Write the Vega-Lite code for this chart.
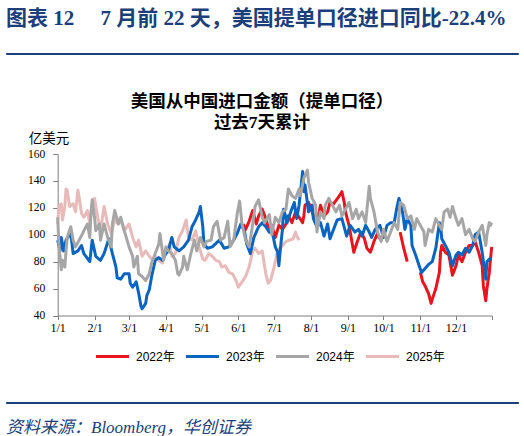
{
  "$schema": "https://vega.github.io/schema/vega-lite/v6.json",
  "background": "white",
  "padding": {"left": 5, "top": 7, "right": 5, "bottom": 5},
  "spacing": 33,
  "columns": 1,
  "align": "none",
  "resolve": {"scale": {"color": "independent", "strokeWidth": "independent"}, "legend": {"color": "independent"}},
  "config": {
    "view": {"stroke": null},
    "axis": {"grid": false, "domainColor": "#7f7f7f", "tickColor": "#7f7f7f", "labelFont": "Liberation Serif", "labelFontSize": 12, "labelColor": "#000"}
  },
  "concat": [
    {
      "width": 512,
      "height": 1,
      "view": {"stroke": "#1B3F7B", "fill": "#1B3F7B", "strokeWidth": 1},
      "title": {
        "text": "图表 12　 7 月前 22 天，美国提单口径进口同比-22.4%",
        "orient": "top", "anchor": "start", "frame": "group", "baseline": "alphabetic", "offset": 2,
        "font": "Liberation Serif, Noto Sans CJK SC", "fontSize": 21, "fontWeight": "bold", "color": "#1B3F7B"
      },
      "data": {"values": [{}]},
      "mark": {"type": "text", "text": ""}
    },
    {
      "width": 512,
      "height": 161.5,
      "title": {
        "text": "美国从中国进口金额（提单口径）",
        "subtitle": "过去7天累计",
        "anchor": "middle", "frame": "group", "offset": 0,
        "font": "Liberation Serif, Noto Sans CJK SC", "fontSize": 17.5, "fontWeight": "bold", "color": "#000",
        "subtitleFont": "Liberation Serif, Noto Sans CJK SC", "subtitleFontSize": 17.5, "subtitleFontWeight": "bold", "subtitleColor": "#000", "subtitlePadding": 4
      },
      "data": {"values": [
        {"s":"2025年","d":"2025-01-01","v":108},{"s":"2025年","d":"2025-01-02","v":121},{"s":"2025年","d":"2025-01-04","v":123},{"s":"2025年","d":"2025-01-05","v":111},
        {"s":"2025年","d":"2025-01-07","v":121},{"s":"2025年","d":"2025-01-08","v":134},{"s":"2025年","d":"2025-01-09","v":133},{"s":"2025年","d":"2025-01-11","v":121},
        {"s":"2025年","d":"2025-01-14","v":123},{"s":"2025年","d":"2025-01-16","v":117},{"s":"2025年","d":"2025-01-18","v":133},{"s":"2025年","d":"2025-01-19","v":128},
        {"s":"2025年","d":"2025-01-21","v":116},{"s":"2025年","d":"2025-01-23","v":113},{"s":"2025年","d":"2025-01-26","v":118},{"s":"2025年","d":"2025-01-28","v":108},
        {"s":"2025年","d":"2025-01-30","v":123},{"s":"2025年","d":"2025-02-01","v":127},{"s":"2025年","d":"2025-02-04","v":111},{"s":"2025年","d":"2025-02-06","v":103},
        {"s":"2025年","d":"2025-02-09","v":121},{"s":"2025年","d":"2025-02-12","v":108},{"s":"2025年","d":"2025-02-15","v":101},{"s":"2025年","d":"2025-02-18","v":111},
        {"s":"2025年","d":"2025-02-21","v":108},{"s":"2025年","d":"2025-02-23","v":111},{"s":"2025年","d":"2025-02-26","v":103},{"s":"2025年","d":"2025-03-01","v":108},
        {"s":"2025年","d":"2025-03-04","v":98},{"s":"2025年","d":"2025-03-07","v":91},{"s":"2025年","d":"2025-03-09","v":96},{"s":"2025年","d":"2025-03-12","v":84},
        {"s":"2025年","d":"2025-03-15","v":88},{"s":"2025年","d":"2025-03-18","v":84},{"s":"2025年","d":"2025-03-21","v":81},{"s":"2025年","d":"2025-03-23","v":84},
        {"s":"2025年","d":"2025-03-26","v":81},{"s":"2025年","d":"2025-03-29","v":79},{"s":"2025年","d":"2025-04-01","v":88},{"s":"2025年","d":"2025-04-04","v":93},
        {"s":"2025年","d":"2025-04-06","v":84},{"s":"2025年","d":"2025-04-09","v":86},{"s":"2025年","d":"2025-04-12","v":98},{"s":"2025年","d":"2025-04-15","v":103},
        {"s":"2025年","d":"2025-04-18","v":111},{"s":"2025年","d":"2025-04-20","v":98},{"s":"2025年","d":"2025-04-23","v":96},{"s":"2025年","d":"2025-04-26","v":103},
        {"s":"2025年","d":"2025-04-29","v":91},{"s":"2025年","d":"2025-05-02","v":82},{"s":"2025年","d":"2025-05-04","v":81},{"s":"2025年","d":"2025-05-07","v":86},
        {"s":"2025年","d":"2025-05-10","v":84},{"s":"2025年","d":"2025-05-13","v":81},{"s":"2025年","d":"2025-05-16","v":80},{"s":"2025年","d":"2025-05-18","v":76},
        {"s":"2025年","d":"2025-05-21","v":77},{"s":"2025年","d":"2025-05-24","v":72},{"s":"2025年","d":"2025-05-27","v":71},{"s":"2025年","d":"2025-05-30","v":66},
        {"s":"2025年","d":"2025-06-01","v":61},{"s":"2025年","d":"2025-06-04","v":65},{"s":"2025年","d":"2025-06-07","v":69},{"s":"2025年","d":"2025-06-10","v":76},
        {"s":"2025年","d":"2025-06-13","v":88},{"s":"2025年","d":"2025-06-15","v":90},{"s":"2025年","d":"2025-06-18","v":86},{"s":"2025年","d":"2025-06-21","v":88},
        {"s":"2025年","d":"2025-06-24","v":71},{"s":"2025年","d":"2025-06-26","v":64},{"s":"2025年","d":"2025-06-28","v":66},{"s":"2025年","d":"2025-07-01","v":76},
        {"s":"2025年","d":"2025-07-04","v":88},{"s":"2025年","d":"2025-07-06","v":90},{"s":"2025年","d":"2025-07-09","v":93},{"s":"2025年","d":"2025-07-11","v":95},
        {"s":"2025年","d":"2025-07-14","v":96},{"s":"2025年","d":"2025-07-17","v":97},{"s":"2025年","d":"2025-07-19","v":102},{"s":"2025年","d":"2025-07-20","v":99},
        {"s":"2025年","d":"2025-07-22","v":96},

        {"s":"2022年","d":"2022-06-05","v":108},{"s":"2022年","d":"2022-06-07","v":104},{"s":"2022年","d":"2022-06-10","v":110},{"s":"2022年","d":"2022-06-13","v":118},
        {"s":"2022年","d":"2022-06-16","v":108},{"s":"2022年","d":"2022-06-18","v":114},{"s":"2022年","d":"2022-06-21","v":119},{"s":"2022年","d":"2022-06-24","v":112},
        {"s":"2022年","d":"2022-06-27","v":102},{"s":"2022年","d":"2022-06-29","v":107},{"s":"2022年","d":"2022-07-02","v":98},{"s":"2022年","d":"2022-07-05","v":107},
        {"s":"2022年","d":"2022-07-08","v":104},{"s":"2022年","d":"2022-07-11","v":108},{"s":"2022年","d":"2022-07-13","v":114},{"s":"2022年","d":"2022-07-16","v":109},
        {"s":"2022年","d":"2022-07-19","v":117},{"s":"2022年","d":"2022-07-22","v":113},{"s":"2022年","d":"2022-07-25","v":109},{"s":"2022年","d":"2022-07-26","v":114},
        {"s":"2022年","d":"2022-07-27","v":122},{"s":"2022年","d":"2022-07-30","v":124},{"s":"2022年","d":"2022-08-02","v":117},{"s":"2022年","d":"2022-08-05","v":109},
        {"s":"2022年","d":"2022-08-08","v":117},{"s":"2022年","d":"2022-08-09","v":122},{"s":"2022年","d":"2022-08-12","v":114},{"s":"2022年","d":"2022-08-15","v":117},
        {"s":"2022年","d":"2022-08-17","v":124},{"s":"2022年","d":"2022-08-20","v":123},{"s":"2022年","d":"2022-08-25","v":129},{"s":"2022年","d":"2022-08-27","v":132},
        {"s":"2022年","d":"2022-08-29","v":124},{"s":"2022年","d":"2022-08-30","v":117},{"s":"2022年","d":"2022-09-02","v":107},{"s":"2022年","d":"2022-09-05","v":92},
        {"s":"2022年","d":"2022-09-06","v":87},{"s":"2022年","d":"2022-09-09","v":95},{"s":"2022年","d":"2022-09-12","v":102},{"s":"2022年","d":"2022-09-15","v":97},
        {"s":"2022年","d":"2022-09-17","v":90},{"s":"2022年","d":"2022-09-20","v":87},{"s":"2022年","d":"2022-09-23","v":95},{"s":"2022年","d":"2022-09-26","v":101},
        {"s":"2022年","d":"2022-09-28","v":97},{"s":"2022年","d":"2022-10-05","v":null},{"s":"2022年","d":"2022-10-15","v":102},{"s":"2022年","d":"2022-10-18","v":90},
        {"s":"2022年","d":"2022-10-21","v":80},{"s":"2022年","d":"2022-10-27","v":null},{"s":"2022年","d":"2022-11-01","v":72},{"s":"2022年","d":"2022-11-03","v":65},
        {"s":"2022年","d":"2022-11-05","v":62},{"s":"2022年","d":"2022-11-08","v":56},{"s":"2022年","d":"2022-11-10","v":49},{"s":"2022年","d":"2022-11-11","v":52},
        {"s":"2022年","d":"2022-11-14","v":60},{"s":"2022年","d":"2022-11-17","v":72},{"s":"2022年","d":"2022-11-18","v":87},{"s":"2022年","d":"2022-11-19","v":92},
        {"s":"2022年","d":"2022-11-22","v":87},{"s":"2022年","d":"2022-11-25","v":85},{"s":"2022年","d":"2022-11-28","v":70},{"s":"2022年","d":"2022-12-01","v":77},
        {"s":"2022年","d":"2022-12-03","v":85},{"s":"2022年","d":"2022-12-06","v":80},{"s":"2022年","d":"2022-12-09","v":87},{"s":"2022年","d":"2022-12-12","v":92},
        {"s":"2022年","d":"2022-12-15","v":92},{"s":"2022年","d":"2022-12-17","v":95},{"s":"2022年","d":"2022-12-20","v":87},{"s":"2022年","d":"2022-12-23","v":77},
        {"s":"2022年","d":"2022-12-24","v":62},{"s":"2022年","d":"2022-12-26","v":51},{"s":"2022年","d":"2022-12-27","v":60},{"s":"2022年","d":"2022-12-29","v":72},
        {"s":"2022年","d":"2022-12-30","v":82},{"s":"2022年","d":"2022-12-31","v":91},

        {"s":"2023年","d":"2023-01-01","v":96},{"s":"2023年","d":"2023-01-03","v":88},{"s":"2023年","d":"2023-01-04","v":98},{"s":"2023年","d":"2023-01-06","v":88},
        {"s":"2023年","d":"2023-01-08","v":96},{"s":"2023年","d":"2023-01-12","v":101},{"s":"2023年","d":"2023-01-14","v":86},{"s":"2023年","d":"2023-01-18","v":88},
        {"s":"2023年","d":"2023-01-21","v":92},{"s":"2023年","d":"2023-01-23","v":86},{"s":"2023年","d":"2023-01-28","v":80},{"s":"2023年","d":"2023-01-30","v":96},
        {"s":"2023年","d":"2023-02-02","v":84},{"s":"2023年","d":"2023-02-06","v":81},{"s":"2023年","d":"2023-02-09","v":86},{"s":"2023年","d":"2023-02-13","v":97},
        {"s":"2023年","d":"2023-02-16","v":86},{"s":"2023年","d":"2023-02-19","v":76},{"s":"2023年","d":"2023-02-20","v":68},{"s":"2023年","d":"2023-02-23","v":67},
        {"s":"2023年","d":"2023-02-26","v":71},{"s":"2023年","d":"2023-03-01","v":71},{"s":"2023年","d":"2023-03-02","v":64},{"s":"2023年","d":"2023-03-04","v":61},
        {"s":"2023年","d":"2023-03-07","v":65},{"s":"2023年","d":"2023-03-09","v":57},{"s":"2023年","d":"2023-03-11","v":47},{"s":"2023年","d":"2023-03-12","v":45},
        {"s":"2023年","d":"2023-03-15","v":49},{"s":"2023年","d":"2023-03-16","v":55},{"s":"2023年","d":"2023-03-18","v":59},{"s":"2023年","d":"2023-03-20","v":69},
        {"s":"2023年","d":"2023-03-23","v":81},{"s":"2023年","d":"2023-03-26","v":83},{"s":"2023年","d":"2023-03-29","v":81},{"s":"2023年","d":"2023-04-01","v":86},
        {"s":"2023年","d":"2023-04-03","v":88},{"s":"2023年","d":"2023-04-06","v":98},{"s":"2023年","d":"2023-04-08","v":91},{"s":"2023年","d":"2023-04-12","v":88},
        {"s":"2023年","d":"2023-04-16","v":91},{"s":"2023年","d":"2023-04-20","v":96},{"s":"2023年","d":"2023-04-23","v":106},{"s":"2023年","d":"2023-04-26","v":111},
        {"s":"2023年","d":"2023-04-29","v":117},{"s":"2023年","d":"2023-04-30","v":121},{"s":"2023年","d":"2023-05-02","v":106},{"s":"2023年","d":"2023-05-03","v":93},
        {"s":"2023年","d":"2023-05-06","v":90},{"s":"2023年","d":"2023-05-10","v":91},{"s":"2023年","d":"2023-05-16","v":96},{"s":"2023年","d":"2023-05-20","v":90},
        {"s":"2023年","d":"2023-05-24","v":91},{"s":"2023年","d":"2023-05-28","v":96},{"s":"2023年","d":"2023-05-31","v":101},{"s":"2023年","d":"2023-06-03","v":108},
        {"s":"2023年","d":"2023-06-06","v":103},{"s":"2023年","d":"2023-06-08","v":93},{"s":"2023年","d":"2023-06-11","v":86},{"s":"2023年","d":"2023-06-14","v":98},
        {"s":"2023年","d":"2023-06-18","v":106},{"s":"2023年","d":"2023-06-21","v":109},{"s":"2023年","d":"2023-06-24","v":106},{"s":"2023年","d":"2023-06-27","v":102},
        {"s":"2023年","d":"2023-06-29","v":104},{"s":"2023年","d":"2023-07-02","v":91},{"s":"2023年","d":"2023-07-04","v":87},{"s":"2023年","d":"2023-07-05","v":77},
        {"s":"2023年","d":"2023-07-06","v":87},{"s":"2023年","d":"2023-07-08","v":104},{"s":"2023年","d":"2023-07-09","v":119},{"s":"2023年","d":"2023-07-12","v":109},
        {"s":"2023年","d":"2023-07-15","v":117},{"s":"2023年","d":"2023-07-18","v":124},{"s":"2023年","d":"2023-07-20","v":112},{"s":"2023年","d":"2023-07-22","v":122},
        {"s":"2023年","d":"2023-07-25","v":147},{"s":"2023年","d":"2023-07-26","v":132},{"s":"2023年","d":"2023-07-27","v":137},{"s":"2023年","d":"2023-07-30","v":117},
        {"s":"2023年","d":"2023-08-02","v":122},{"s":"2023年","d":"2023-08-03","v":112},{"s":"2023年","d":"2023-08-06","v":106},{"s":"2023年","d":"2023-08-09","v":109},
        {"s":"2023年","d":"2023-08-12","v":99},{"s":"2023年","d":"2023-08-15","v":108},{"s":"2023年","d":"2023-08-17","v":97},{"s":"2023年","d":"2023-08-20","v":104},
        {"s":"2023年","d":"2023-08-23","v":111},{"s":"2023年","d":"2023-08-27","v":112},{"s":"2023年","d":"2023-08-31","v":99},{"s":"2023年","d":"2023-09-03","v":107},
        {"s":"2023年","d":"2023-09-07","v":102},{"s":"2023年","d":"2023-09-10","v":104},{"s":"2023年","d":"2023-09-13","v":99},{"s":"2023年","d":"2023-09-16","v":107},
        {"s":"2023年","d":"2023-09-19","v":102},{"s":"2023年","d":"2023-09-21","v":98},{"s":"2023年","d":"2023-09-24","v":104},{"s":"2023年","d":"2023-09-28","v":107},
        {"s":"2023年","d":"2023-10-01","v":98},{"s":"2023年","d":"2023-10-04","v":107},{"s":"2023年","d":"2023-10-07","v":109},{"s":"2023年","d":"2023-10-10","v":109},
        {"s":"2023年","d":"2023-10-12","v":119},{"s":"2023年","d":"2023-10-14","v":127},{"s":"2023年","d":"2023-10-17","v":117},{"s":"2023年","d":"2023-10-19","v":104},
        {"s":"2023年","d":"2023-10-21","v":112},{"s":"2023年","d":"2023-10-24","v":107},{"s":"2023年","d":"2023-10-25","v":92},{"s":"2023年","d":"2023-10-28","v":85},
        {"s":"2023年","d":"2023-10-31","v":77},{"s":"2023年","d":"2023-11-02","v":72},{"s":"2023年","d":"2023-11-05","v":75},{"s":"2023年","d":"2023-11-08","v":78},
        {"s":"2023年","d":"2023-11-11","v":80},{"s":"2023年","d":"2023-11-14","v":90},{"s":"2023年","d":"2023-11-17","v":109},{"s":"2023年","d":"2023-11-18","v":107},
        {"s":"2023年","d":"2023-11-19","v":97},{"s":"2023年","d":"2023-11-22","v":92},{"s":"2023年","d":"2023-11-25","v":87},{"s":"2023年","d":"2023-11-28","v":77},
        {"s":"2023年","d":"2023-12-01","v":85},{"s":"2023年","d":"2023-12-03","v":87},{"s":"2023年","d":"2023-12-06","v":85},{"s":"2023年","d":"2023-12-09","v":90},
        {"s":"2023年","d":"2023-12-12","v":87},{"s":"2023年","d":"2023-12-15","v":92},{"s":"2023年","d":"2023-12-17","v":100},{"s":"2023年","d":"2023-12-20","v":102},
        {"s":"2023年","d":"2023-12-23","v":87},{"s":"2023年","d":"2023-12-26","v":67},{"s":"2023年","d":"2023-12-27","v":80},{"s":"2023年","d":"2023-12-29","v":82},
        {"s":"2023年","d":"2023-12-31","v":82},

        {"s":"2024年","d":"2024-01-01","v":113},{"s":"2024年","d":"2024-01-02","v":93},{"s":"2024年","d":"2024-01-04","v":74},{"s":"2024年","d":"2024-01-05","v":81},
        {"s":"2024年","d":"2024-01-07","v":76},{"s":"2024年","d":"2024-01-08","v":88},{"s":"2024年","d":"2024-01-09","v":98},{"s":"2024年","d":"2024-01-12","v":106},
        {"s":"2024年","d":"2024-01-14","v":96},{"s":"2024年","d":"2024-01-16","v":91},{"s":"2024年","d":"2024-01-19","v":96},{"s":"2024年","d":"2024-01-22","v":101},
        {"s":"2024年","d":"2024-01-23","v":103},{"s":"2024年","d":"2024-01-26","v":108},{"s":"2024年","d":"2024-01-28","v":98},{"s":"2024年","d":"2024-01-29","v":116},
        {"s":"2024年","d":"2024-01-30","v":126},{"s":"2024年","d":"2024-02-01","v":113},{"s":"2024年","d":"2024-02-02","v":103},{"s":"2024年","d":"2024-02-05","v":108},
        {"s":"2024年","d":"2024-02-06","v":96},{"s":"2024年","d":"2024-02-09","v":108},{"s":"2024年","d":"2024-02-12","v":98},{"s":"2024年","d":"2024-02-15","v":91},
        {"s":"2024年","d":"2024-02-16","v":108},{"s":"2024年","d":"2024-02-18","v":118},{"s":"2024年","d":"2024-02-21","v":108},{"s":"2024年","d":"2024-02-23","v":113},
        {"s":"2024年","d":"2024-02-26","v":103},{"s":"2024年","d":"2024-03-01","v":91},{"s":"2024年","d":"2024-03-04","v":84},{"s":"2024年","d":"2024-03-05","v":76},
        {"s":"2024年","d":"2024-03-08","v":84},{"s":"2024年","d":"2024-03-09","v":71},{"s":"2024年","d":"2024-03-12","v":69},{"s":"2024年","d":"2024-03-15","v":66},
        {"s":"2024年","d":"2024-03-18","v":71},{"s":"2024年","d":"2024-03-20","v":79},{"s":"2024年","d":"2024-03-23","v":86},{"s":"2024年","d":"2024-03-26","v":93},
        {"s":"2024年","d":"2024-03-27","v":101},{"s":"2024年","d":"2024-03-29","v":88},{"s":"2024年","d":"2024-03-30","v":81},{"s":"2024年","d":"2024-04-01","v":91},
        {"s":"2024年","d":"2024-04-03","v":88},{"s":"2024年","d":"2024-04-06","v":86},{"s":"2024年","d":"2024-04-09","v":81},{"s":"2024年","d":"2024-04-11","v":71},
        {"s":"2024年","d":"2024-04-12","v":70},{"s":"2024年","d":"2024-04-15","v":76},{"s":"2024年","d":"2024-04-16","v":84},{"s":"2024年","d":"2024-04-19","v":74},
        {"s":"2024年","d":"2024-04-22","v":86},{"s":"2024年","d":"2024-04-25","v":96},{"s":"2024年","d":"2024-04-27","v":88},{"s":"2024年","d":"2024-04-30","v":98},
        {"s":"2024年","d":"2024-05-03","v":91},{"s":"2024年","d":"2024-05-05","v":95},{"s":"2024年","d":"2024-05-09","v":96},{"s":"2024年","d":"2024-05-11","v":106},
        {"s":"2024年","d":"2024-05-14","v":110},{"s":"2024年","d":"2024-05-17","v":96},{"s":"2024年","d":"2024-05-20","v":98},{"s":"2024年","d":"2024-05-23","v":110},
        {"s":"2024年","d":"2024-05-25","v":91},{"s":"2024年","d":"2024-05-28","v":96},{"s":"2024年","d":"2024-05-31","v":116},{"s":"2024年","d":"2024-06-02","v":125},
        {"s":"2024年","d":"2024-06-04","v":108},{"s":"2024年","d":"2024-06-07","v":96},{"s":"2024年","d":"2024-06-10","v":91},{"s":"2024年","d":"2024-06-13","v":108},
        {"s":"2024年","d":"2024-06-15","v":121},{"s":"2024年","d":"2024-06-18","v":126},{"s":"2024年","d":"2024-06-21","v":113},{"s":"2024年","d":"2024-06-23","v":109},
        {"s":"2024年","d":"2024-06-27","v":115},{"s":"2024年","d":"2024-06-29","v":100},{"s":"2024年","d":"2024-07-02","v":113},{"s":"2024年","d":"2024-07-05","v":109},
        {"s":"2024年","d":"2024-07-08","v":117},{"s":"2024年","d":"2024-07-11","v":119},{"s":"2024年","d":"2024-07-13","v":134},{"s":"2024年","d":"2024-07-16","v":129},
        {"s":"2024年","d":"2024-07-19","v":127},{"s":"2024年","d":"2024-07-22","v":134},{"s":"2024年","d":"2024-07-23","v":129},{"s":"2024年","d":"2024-07-26","v":142},
        {"s":"2024年","d":"2024-07-29","v":148},{"s":"2024年","d":"2024-07-30","v":139},{"s":"2024年","d":"2024-08-02","v":127},{"s":"2024年","d":"2024-08-05","v":122},
        {"s":"2024年","d":"2024-08-06","v":102},{"s":"2024年","d":"2024-08-09","v":117},{"s":"2024年","d":"2024-08-12","v":112},{"s":"2024年","d":"2024-08-13","v":122},
        {"s":"2024年","d":"2024-08-16","v":127},{"s":"2024年","d":"2024-08-19","v":122},{"s":"2024年","d":"2024-08-22","v":117},{"s":"2024年","d":"2024-08-25","v":122},
        {"s":"2024年","d":"2024-08-27","v":114},{"s":"2024年","d":"2024-08-30","v":119},{"s":"2024年","d":"2024-09-02","v":124},{"s":"2024年","d":"2024-09-05","v":112},
        {"s":"2024年","d":"2024-09-08","v":119},{"s":"2024年","d":"2024-09-10","v":112},{"s":"2024年","d":"2024-09-13","v":117},{"s":"2024年","d":"2024-09-16","v":109},
        {"s":"2024年","d":"2024-09-19","v":136},{"s":"2024年","d":"2024-09-20","v":127},{"s":"2024年","d":"2024-09-23","v":117},{"s":"2024年","d":"2024-09-26","v":102},
        {"s":"2024年","d":"2024-09-29","v":95},{"s":"2024年","d":"2024-10-01","v":104},{"s":"2024年","d":"2024-10-04","v":95},{"s":"2024年","d":"2024-10-07","v":102},
        {"s":"2024年","d":"2024-10-10","v":109},{"s":"2024年","d":"2024-10-13","v":104},{"s":"2024年","d":"2024-10-15","v":124},{"s":"2024年","d":"2024-10-18","v":122},
        {"s":"2024年","d":"2024-10-21","v":112},{"s":"2024年","d":"2024-10-24","v":114},{"s":"2024年","d":"2024-10-27","v":104},{"s":"2024年","d":"2024-10-29","v":112},
        {"s":"2024年","d":"2024-11-01","v":107},{"s":"2024年","d":"2024-11-04","v":102},{"s":"2024年","d":"2024-11-05","v":92},{"s":"2024年","d":"2024-11-08","v":104},
        {"s":"2024年","d":"2024-11-11","v":102},{"s":"2024年","d":"2024-11-14","v":112},{"s":"2024年","d":"2024-11-17","v":107},{"s":"2024年","d":"2024-11-19","v":104},
        {"s":"2024年","d":"2024-11-21","v":117},{"s":"2024年","d":"2024-11-24","v":119},{"s":"2024年","d":"2024-11-26","v":113},{"s":"2024年","d":"2024-11-28","v":121},
        {"s":"2024年","d":"2024-12-01","v":112},{"s":"2024年","d":"2024-12-03","v":107},{"s":"2024年","d":"2024-12-06","v":112},{"s":"2024年","d":"2024-12-09","v":100},
        {"s":"2024年","d":"2024-12-12","v":104},{"s":"2024年","d":"2024-12-15","v":97},{"s":"2024年","d":"2024-12-17","v":95},{"s":"2024年","d":"2024-12-20","v":102},
        {"s":"2024年","d":"2024-12-23","v":107},{"s":"2024年","d":"2024-12-26","v":92},{"s":"2024年","d":"2024-12-27","v":100},{"s":"2024年","d":"2024-12-29","v":109},
        {"s":"2024年","d":"2024-12-30","v":107},{"s":"2024年","d":"2024-12-31","v":109}
      ]},
      "mark": {"type": "line", "invalid": "break-paths-show-domains", "strokeJoin": "round"},
      "encoding": {
        "x": {
          "field": "d", "type": "temporal", "timeUnit": "utcmonthdate",
          "scale": {"domain": [{"year": 2012, "month": 1, "date": 1, "utc": true}, {"year": 2012, "month": 12, "date": 31, "utc": true}], "range": [51.7, 485.7]},
          "axis": {
            "title": null, "format": "%-m/%-d", "labelFlush": false, "labelOverlap": false,
            "labelExpr": "utcdate(datum.value) == 31 ? '' : datum.label",
            "tickSize": 4, "labelPadding": 3,
            "values": [
              {"year": 2012, "month": 1, "date": 1, "utc": true}, {"year": 2012, "month": 2, "date": 1, "utc": true},
              {"year": 2012, "month": 3, "date": 1, "utc": true}, {"year": 2012, "month": 4, "date": 1, "utc": true},
              {"year": 2012, "month": 5, "date": 1, "utc": true}, {"year": 2012, "month": 6, "date": 1, "utc": true},
              {"year": 2012, "month": 7, "date": 1, "utc": true}, {"year": 2012, "month": 8, "date": 1, "utc": true},
              {"year": 2012, "month": 9, "date": 1, "utc": true}, {"year": 2012, "month": 10, "date": 1, "utc": true},
              {"year": 2012, "month": 11, "date": 1, "utc": true}, {"year": 2012, "month": 12, "date": 1, "utc": true},
              {"year": 2012, "month": 12, "date": 31, "utc": true}
            ]
          }
        },
        "y": {
          "field": "v", "type": "quantitative",
          "scale": {"domain": [40, 160], "nice": false, "zero": false},
          "axis": {
            "values": [40, 60, 80, 100, 120, 140, 160], "tickSize": 5, "labelPadding": 8, "labelFontSize": 11.5, "offset": -51.7,
            "title": "亿美元", "titleAngle": 0, "titleAlign": "left", "titleBaseline": "alphabetic",
            "titleX": -29.5, "titleY": -11.5, "titleFont": "Noto Sans CJK SC", "titleFontSize": 13.5, "titleFontWeight": "normal", "titleColor": "#000"
          }
        },
        "color": {
          "field": "s", "type": "nominal",
          "scale": {"domain": ["2022年", "2023年", "2024年", "2025年"], "range": ["#E8141E", "#0A64C2", "#A6A6A6", "#E8BAB9"]},
          "legend": {
            "title": null, "orient": "none", "direction": "horizontal", "legendX": 87, "legendY": 196.5,
            "symbolType": "M-1,0H10", "symbolSize": 36, "symbolStrokeWidth": 3, "labelOffset": 31, "columnPadding": 5,
            "labelFont": "Liberation Sans, Noto Sans CJK SC", "labelFontSize": 12, "labelColor": "#000"
          }
        },
        "strokeWidth": {
          "field": "s", "type": "nominal",
          "scale": {"domain": ["2022年", "2023年", "2024年", "2025年"], "range": [3, 3, 3, 3.8]},
          "legend": null
        }
      }
    },
    {
      "width": 512,
      "height": 1,
      "view": {"stroke": "#1B3F7B", "fill": "#1B3F7B", "strokeWidth": 1},
      "title": {
        "text": "资料来源：Bloomberg，华创证券",
        "orient": "bottom", "anchor": "start", "frame": "group", "offset": 12,
        "font": "Liberation Serif, Noto Sans CJK SC", "fontSize": 17, "fontStyle": "italic", "fontWeight": "normal", "color": "#1B3F7B"
      },
      "data": {"values": [{}]},
      "mark": {"type": "text", "text": ""}
    }
  ]
}
